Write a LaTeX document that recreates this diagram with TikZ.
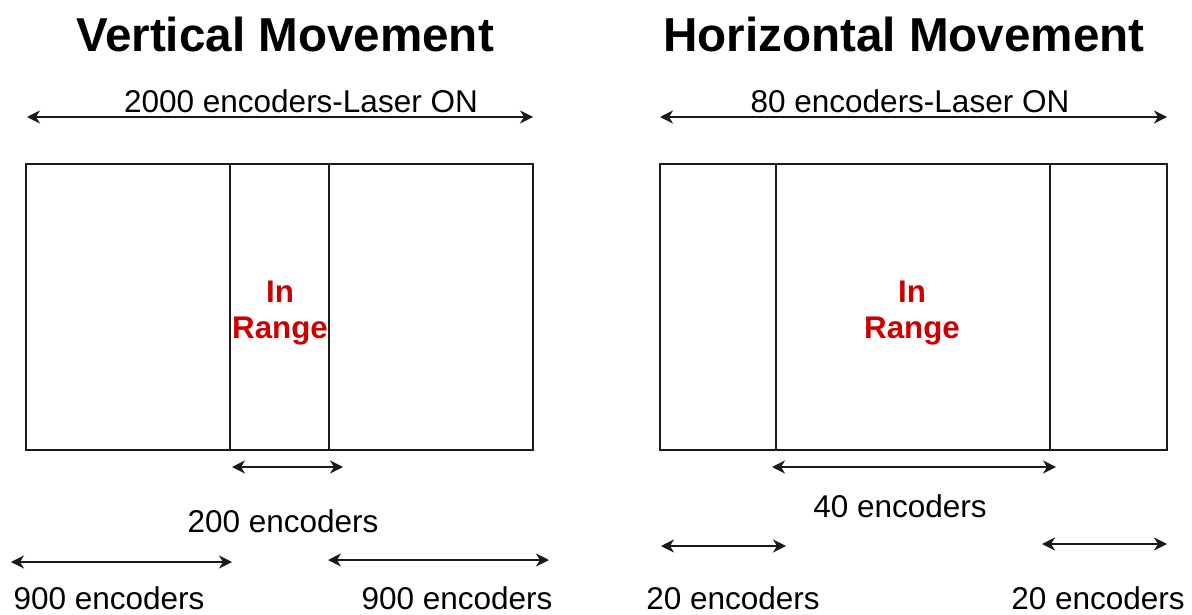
\documentclass[tikz,border=0pt]{standalone}
\usepackage{fontspec}
\setmainfont{Liberation Sans}
\usetikzlibrary{arrows.meta}
\definecolor{linegray}{HTML}{1A1A1A}
\definecolor{rangered}{HTML}{CC0000}
\tikzset{
  panel/.style={draw=linegray, line width=1.4pt},
  span/.style={draw=linegray, line width=1.5pt,
    {Stealth[length=13pt,width=13pt,inset=4pt]}-{Stealth[length=13pt,width=13pt,inset=4pt]}},
  title/.style={font=\fontsize{47.6}{52}\selectfont\bfseries, anchor=base, inner sep=0pt},
  lbl/.style={font=\fontsize{31.5}{36}\selectfont, anchor=base, inner sep=0pt},
  inrange/.style={font=\fontsize{31.3}{36}\selectfont\bfseries, text=rangered, anchor=base, inner sep=0pt},
}
\begin{document}
\begin{tikzpicture}[x=1pt, y=-1pt]
\useasboundingbox (0,0) rectangle (1192,615);

% ---------- vertical movement ----------
\node[title] (vtitle) at (285,52) {Vertical Movement};
\coordinate (vtopL) at (27,117);
\coordinate (vtopR) at (533,117);
\draw[span] (vtopL) -- (vtopR);
\node[lbl] (vtop) at (301,113) {2000 encoders-Laser ON};

\draw[panel] (26,164) rectangle (533,450);
\draw[panel] (230,164) -- (230,450);
\draw[panel] (329,164) -- (329,450);
\node[inrange] (vin) at (280,302) {In};
\node[inrange] (vrange) at (280,338) {Range};

\coordinate (vmidL) at (232,467);
\coordinate (vmidR) at (343,467);
\draw[span] (vmidL) -- (vmidR);
\node[lbl] (vmid) at (283,532) {200 encoders};

\coordinate (vleftA) at (11,562);
\coordinate (vleftB) at (232,562);
\draw[span] (vleftA) -- (vleftB);
\node[lbl] (vleft) at (109,609) {900 encoders};

\coordinate (vrightA) at (328,560);
\coordinate (vrightB) at (549,560);
\draw[span] (vrightA) -- (vrightB);
\node[lbl] (vright) at (457,609) {900 encoders};

% ---------- horizontal movement ----------
\node[title] (htitle) at (904,52) {Horizontal Movement};
\coordinate (htopL) at (660,117);
\coordinate (htopR) at (1167,117);
\draw[span] (htopL) -- (htopR);
\node[lbl] (htop) at (910,113) {80 encoders-Laser ON};

\draw[panel] (660,164) rectangle (1167,450);
\draw[panel] (776,164) -- (776,450);
\draw[panel] (1050,164) -- (1050,450);
\node[inrange] (hin) at (912,302) {In};
\node[inrange] (hrange) at (912,338) {Range};

\coordinate (hmidL) at (772,467);
\coordinate (hmidR) at (1056,467);
\draw[span] (hmidL) -- (hmidR);
\node[lbl] (hmid) at (900,517) {40 encoders};

\coordinate (hleftA) at (661,546);
\coordinate (hleftB) at (786,546);
\draw[span] (hleftA) -- (hleftB);
\node[lbl] (hleft) at (733,609) {20 encoders};

\coordinate (hrightA) at (1042,544);
\coordinate (hrightB) at (1167,544);
\draw[span] (hrightA) -- (hrightB);
\node[lbl] (hright) at (1098,609) {20 encoders};
\end{tikzpicture}
\end{document}
